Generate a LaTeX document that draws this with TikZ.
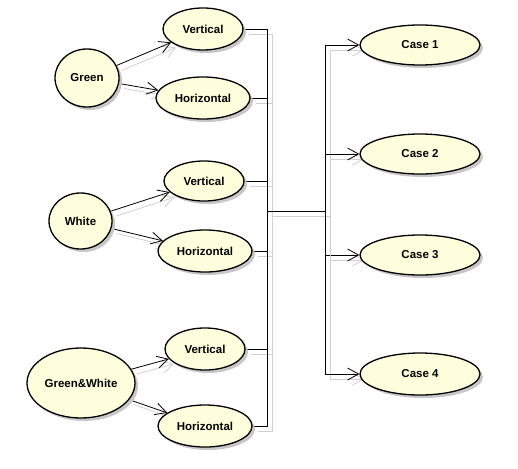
\documentclass[tikz,border=0pt]{standalone}
\usepackage{fontspec}
\setmainfont{Liberation Sans}
\usetikzlibrary{arrows.meta,shadows,backgrounds,shapes.geometric}
\definecolor{ucfill}{RGB}{255,255,221}
\definecolor{shgray}{RGB}{208,208,208}
\begin{document}
\begin{tikzpicture}[x=1pt,y=-1pt,
  uc/.style={ellipse, draw, line width=1.3pt, fill=ucfill, inner sep=0pt,
    font=\bfseries\fontsize{11.5}{13}\selectfont,
    drop shadow={shadow xshift=3pt,shadow yshift=-3pt,fill=black!22,opacity=1}},
  conn/.style={line width=0.8pt,
    preaction={draw=shgray, line width=0.8pt, transform canvas={shift={(5pt,-5pt)}}}},
  arr/.style={conn, -{Straight Barb[length=11pt,width=12pt]}}]
\useasboundingbox (0,0) rectangle (518,468);

\node[uc, minimum width=64pt, minimum height=58pt] (green) at (87,78) {Green};
\node[uc, minimum width=80pt, minimum height=42pt] (v1) at (203,29) {Vertical};
\node[uc, minimum width=94pt, minimum height=42pt] (h1) at (203,98) {Horizontal};

\node[uc, minimum width=63pt, minimum height=56pt] (white) at (80.5,221) {White};
\node[uc, minimum width=80pt, minimum height=40pt] (v2) at (204,181) {Vertical};
\node[uc, minimum width=94pt, minimum height=42pt] (h2) at (205,251) {Horizontal};

\node[uc, minimum width=108pt, minimum height=70pt] (gw) at (81,383) {Green\&White};
\node[uc, minimum width=80pt, minimum height=42pt] (v3) at (205,349) {Vertical};
\node[uc, minimum width=94pt, minimum height=42pt] (h3) at (205,426) {Horizontal};

\node[uc, minimum width=120pt, minimum height=40pt] (c1) at (420,45) {Case 1};
\node[uc, minimum width=120pt, minimum height=40pt] (c2) at (420,154) {Case 2};
\node[uc, minimum width=120pt, minimum height=40pt] (c3) at (420,255) {Case 3};
\node[uc, minimum width=120pt, minimum height=42pt] (c4) at (420,374) {Case 4};

\coordinate (L) at (267,211);
\coordinate (R) at (325,211);

\begin{pgfonlayer}{background}
\draw[arr] (green) -- (v1);
\draw[arr] (green) -- (h1);
\draw[arr] (white) -- (v2);
\draw[arr] (white) -- (h2);
\draw[arr] (gw) -- (v3);
\draw[arr] (gw) -- (h3);
\foreach \n in {v1,h1,v2,h2,v3,h3}
  \draw[conn] (\n.east) -| (L);
\draw[conn] (L) -- (R);
\foreach \n in {c1,c2,c3,c4}
  \draw[arr] (R) |- (\n);
\end{pgfonlayer}
\end{tikzpicture}
\end{document}
